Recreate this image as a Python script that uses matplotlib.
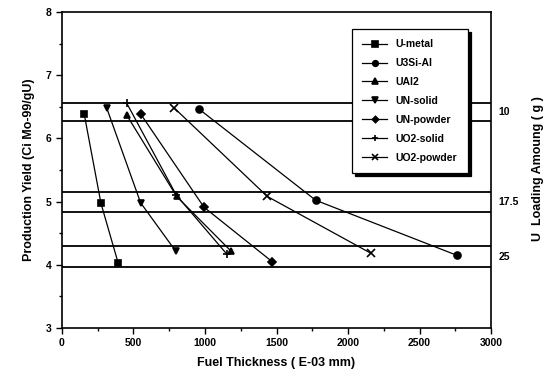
import matplotlib
matplotlib.use("Agg")
import matplotlib.pyplot as plt
from matplotlib.ticker import MultipleLocator

plt.rcParams['font.family'] = ['Liberation Sans', 'DejaVu Sans']
plt.rcParams['font.weight'] = 'bold'

# datos
series_names = ["U-metal", "U3Si-Al", "UAl2", "UN-solid", "UN-powder", "UO2-solid", "UO2-powder"]
markers = ["s", "o", "^", "v", "D", "+", "x"]

u_metal_x = [156, 273, 394]
u_metal_y = [6.38, 4.97, 4.02]
u3si_x = [960, 1774, 2760]
u3si_y = [6.46, 5.02, 4.15]
ual2_x = [452, 802, 1180]
ual2_y = [6.37, 5.08, 4.22]
un_solid_x = [313, 550, 797]
un_solid_y = [6.48, 4.98, 4.21]
un_powder_x = [552, 993, 1469]
un_powder_y = [6.38, 4.91, 4.05]
uo2_solid_x = [452, 800, 1152]
uo2_solid_y = [6.56, 5.10, 4.17]
uo2_powder_x = [785, 1436, 2161]
uo2_powder_y = [6.48, 5.08, 4.18]

xs = [u_metal_x, u3si_x, ual2_x, un_solid_x, un_powder_x, uo2_solid_x, uo2_powder_x]
ys = [u_metal_y, u3si_y, ual2_y, un_solid_y, un_powder_y, uo2_solid_y, uo2_powder_y]

# lineas horizontales de carga de U
loading_lines = [6.56, 6.28, 5.15, 4.84, 4.29, 3.96]
loading_labels = ["10", "17.5", "25"]
loading_label_y = [6.42, 4.99, 4.12]

fig = plt.figure(figsize=(5.53, 3.84), dpi=100)
ax = fig.add_axes([0.112, 0.146, 0.776, 0.823])

for yl in loading_lines:
    ax.axhline(yl, color='black', linewidth=1.3, zorder=1)

for name, mk, x, y in zip(series_names, markers, xs, ys):
    ms = 5 if mk not in ("+", "x") else 6
    if mk == "D":
        ms = 4
    ax.plot(x, y, color='black', linewidth=0.9, marker=mk, markersize=ms,
            markeredgewidth=1.2, label=name, zorder=3)

for lab, yl in zip(loading_labels, loading_label_y):
    ax.text(1.018, yl, lab, transform=ax.get_yaxis_transform(), ha='left',
            va='center', fontsize=7.5)

ax.set_xlim(0, 3000)
ax.set_ylim(3, 8)
ax.xaxis.set_major_locator(MultipleLocator(500))
ax.xaxis.set_minor_locator(MultipleLocator(250))
ax.yaxis.set_major_locator(MultipleLocator(1))
ax.yaxis.set_minor_locator(MultipleLocator(0.5))
ax.tick_params(which='both', direction='out', labelsize=7.5, width=1)
ax.tick_params(which='major', length=4)
ax.tick_params(which='minor', length=2.5)
for sp in ax.spines.values():
    sp.set_linewidth(1.2)

ax.set_xlabel("Fuel Thickness ( E-03 mm)", fontsize=9, fontweight='bold', labelpad=6)
ax.set_ylabel("Production Yield (Ci Mo-99/gU)", fontsize=9, fontweight='bold', labelpad=8)

fig.text(0.972, 0.56, "U  Loading Amoung ( g )", rotation=90, ha='center',
         va='center', fontsize=9, fontweight='bold')

leg = ax.legend(loc='upper left', bbox_to_anchor=(0.676, 0.946), borderaxespad=0,
                fontsize=7.5, frameon=True, fancybox=False, handlelength=2.4,
                labelspacing=0.85, borderpad=1.0, markerscale=0.8,
                shadow={'color': 'black', 'alpha': 1.0})
leg.get_frame().set_edgecolor('black')
leg.get_frame().set_linewidth(0.9)
leg.set_zorder(5)

fig.savefig("out.png", dpi=100)
